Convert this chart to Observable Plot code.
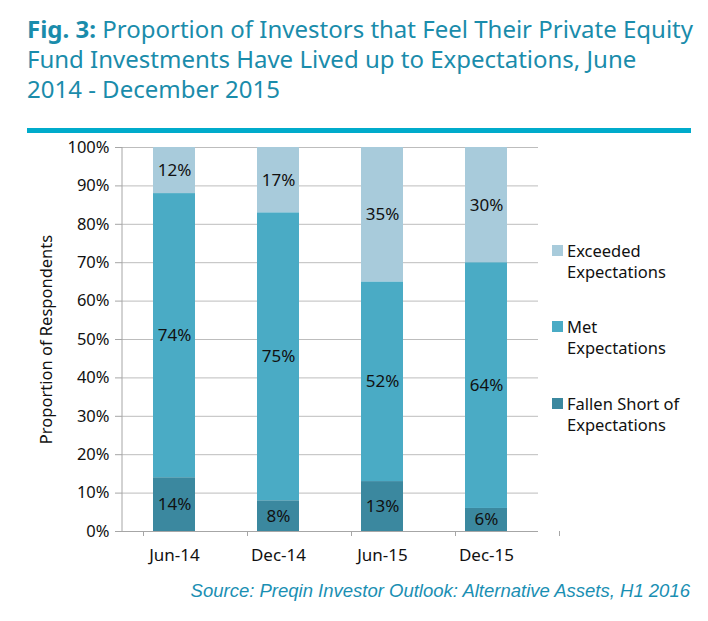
<!DOCTYPE html>
<html>
<head>
<meta charset="utf-8">
<script src="https://cdn.jsdelivr.net/npm/d3@7"></script>
<script src="https://cdn.jsdelivr.net/npm/@observablehq/plot@0.6"></script>
<style>
  html, body { margin: 0; padding: 0; background: #fff; }
  #wrap { position: relative; width: 708px; height: 621px; overflow: hidden; font-family: "Noto Sans", sans-serif; }
  #title { position: absolute; left: 27px; top: 14px; width: 681px; color: #1a8cab; font-size: 24px; line-height: 30px; letter-spacing: 0px; white-space: nowrap; }
  #title b { font-weight: 700; }
  #rule { position: absolute; left: 27px; top: 128px; width: 664px; height: 5px; background: #00abcb; }
  #chart { position: absolute; left: 0; top: 135px; }
  #legend { position: absolute; left: 552px; top: 0; font-size: 16.5px; color: #111; }
  .li { position: absolute; left: 0; width: 160px; line-height: 21px; }
  .sw { position: absolute; left: 0; top: 5px; width: 11px; height: 11px; }
  .lt { position: absolute; left: 15px; top: 0; white-space: nowrap; }
  #source { position: absolute; right: 18px; top: 580px; font-family: "Liberation Sans", Arial, sans-serif; font-style: italic; font-size: 18.5px; color: #1a8fb3; white-space: nowrap; }
</style>
</head>
<body>
<div id="wrap">
  <div id="title"><b>Fig. 3:</b> Proportion of Investors that Feel Their Private Equity<br>Fund Investments Have Lived up to Expectations, June<br>2014 - December 2015</div>
  <div id="rule"></div>
  <div id="chart"></div>
  <div id="legend"></div>
  <div id="source">Source: Preqin Investor Outlook: Alternative Assets, H1 2016</div>
</div>
<script>
const periods = ["Jun-14", "Dec-14", "Jun-15", "Dec-15"];
const series = ["Fallen Short of Expectations", "Met Expectations", "Exceeded Expectations"];
const legendLines = [["Exceeded", "Expectations"], ["Met", "Expectations"], ["Fallen Short of", "Expectations"]];
const colors = ["#3b889f", "#4aabc5", "#a8cbdb"];
const fallenShort = [14, 8, 13, 6];
const met = [74, 75, 52, 64];
const exceeded = [12, 17, 35, 30];
const yTicks = [0, 10, 20, 30, 40, 50, 60, 70, 80, 90, 100];

const valuesBySeries = [fallenShort, met, exceeded];
const data = [];
series.forEach((s, si) => periods.forEach((p, pi) => data.push({period: p, series: s, value: valuesBySeries[si][pi]})));

const width = 708, height = 436;
const marginLeft = 122, marginRight = 170, marginTop = 12, marginBottom = 40;
const step = (width - marginLeft - marginRight) / periods.length;
const boundaries = periods.map((p, i) => ({period: p, side: -1})).concat([{period: periods[periods.length - 1], side: 1}]);

const chart = Plot.plot({
  width, height, marginLeft, marginRight, marginTop, marginBottom,
  style: {fontFamily: "'Noto Sans', sans-serif", fontSize: "16px", color: "#111", background: "transparent"},
  x: {domain: periods, paddingInner: 0.6, paddingOuter: 0.3, label: null},
  y: {domain: [0, 100], label: null},
  color: {domain: series, range: colors},
  marks: [
    Plot.gridY(yTicks, {stroke: "#bdbdbd", strokeOpacity: 1, strokeWidth: 1}),
    Plot.axisY(yTicks, {tickFormat: d => d + "%", tickSize: 7, stroke: "#a6a6a6", tickPadding: 6, fontSize: 16.5, fill: "#111",
      label: "Proportion of Respondents", labelAnchor: "center", labelOffset: 82, labelArrow: "none"}),
    Plot.axisX({tickSize: 0, tickPadding: 17, fontSize: 17, fill: "#111", label: null}),
    Plot.ruleX(boundaries, {x: "period", y1: 0, y2: 0, insetBottom: -5, stroke: "#a6a6a6",
      render: (index, scales, values, dims, context, next) => {
        const g = next(index, scales, values, dims, context);
        d3.select(g).selectAll("line").each(function(_, j) {
          const b = boundaries[index[j]];
          const xx = scales.x(b.period) + scales.x.bandwidth() / 2 + b.side * step / 2;
          d3.select(this).attr("x1", xx).attr("x2", xx);
        });
        return g;
      }}),
    Plot.barY(data, {x: "period", y: "value", fill: "series"}),
    Plot.text(data, Plot.stackY({x: "period", y: "value", text: d => d.value + "%", fill: "#111", fontSize: 17})),
    Plot.ruleY([0], {stroke: "#a6a6a6"})
  ]
});
const svg = d3.select(chart);
svg.selectAll("[aria-label='y-axis label'] text, [aria-label='y-axis label']").attr("font-size", 16.5);
svg.append("line").attr("x1", marginLeft).attr("x2", marginLeft).attr("y1", marginTop).attr("y2", height - marginBottom).attr("stroke", "#a6a6a6");
document.getElementById("chart").appendChild(chart);

// legend
const legendTops = [240, 316, 393];
const legend = document.getElementById("legend");
[2, 1, 0].forEach((si, k) => {
  const li = document.createElement("div");
  li.className = "li";
  li.style.top = legendTops[k] + "px";
  li.innerHTML = `<div class="sw" style="background:${colors[si]}"></div><div class="lt">${legendLines[k][0]}<br>${legendLines[k][1]}</div>`;
  legend.appendChild(li);
});
</script>
</body>
</html>
